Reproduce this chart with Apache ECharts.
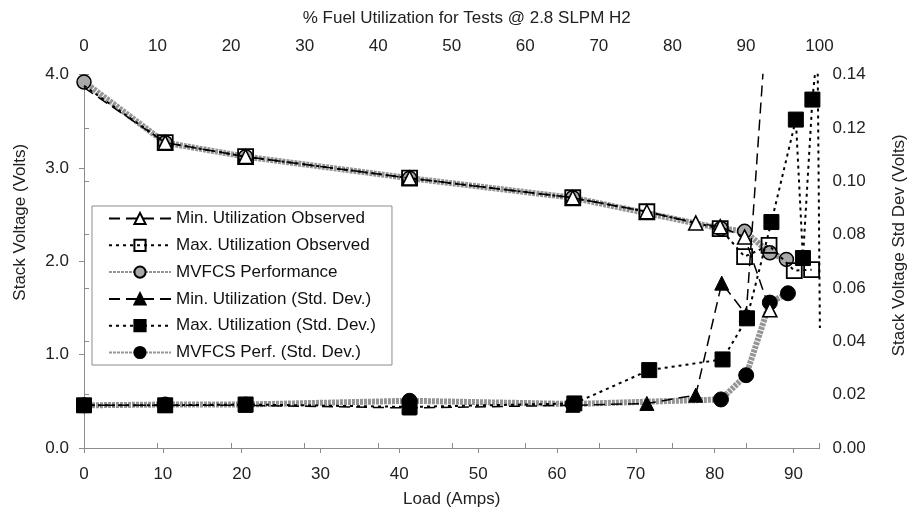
<!DOCTYPE html>
<html>
<head>
<meta charset="utf-8">
<script src="https://cdn.jsdelivr.net/npm/echarts@6/dist/echarts.min.js"></script>
<style>
  html, body { margin: 0; padding: 0; background: #fff; }
  #chart { width: 909px; height: 515px; }
</style>
</head>
<body>
<div id="chart"></div>
<script>
// Load (A) and stack voltage (V) for each test series
const minObsLoad = [0, 10.3, 20.5, 41.3, 62.0, 71.4, 77.6, 80.7, 83.8, 87.0];
const minObsVolt = [3.86, 3.27, 3.12, 2.89, 2.68, 2.53, 2.41, 2.37, 2.26, 1.48];

const maxObsLoad = [0, 10.3, 20.5, 41.3, 62.0, 71.4, 80.7, 83.8, 86.9, 90.1, 92.3];
const maxObsVolt = [3.88, 3.27, 3.12, 2.89, 2.68, 2.53, 2.35, 2.05, 2.17, 1.90, 1.91];

const perfLoad = [0, 10.3, 20.5, 41.3, 62.0, 80.8, 83.8, 87.0, 89.1];
const perfVolt = [3.92, 3.27, 3.12, 2.89, 2.68, 2.35, 2.32, 2.09, 2.02];

// Load (A) and stack voltage standard deviation (V)
const minSdLoad = [0, 10.3, 20.5, 41.3, 62.0, 71.4, 77.6, 80.9, 84.0, 88.0];
const minSdVal  = [0.016, 0.016, 0.016, 0.015, 0.016, 0.0167, 0.0198, 0.0618, 0.050, 0.22];

const maxSdLoad = [0, 10.3, 20.5, 41.3, 62.2, 71.7, 81.0, 84.1, 87.2, 90.3, 91.2, 92.4, 93.05, 93.35];
const maxSdVal  = [0.016, 0.016, 0.0163, 0.0154, 0.0167, 0.0292, 0.0332, 0.0486, 0.0847, 0.1231, 0.0712, 0.1306, 0.15, 0.045];

const perfSdLoad = [0, 10.3, 20.5, 41.3, 62.0, 80.8, 84.0, 87.0, 89.3];
const perfSdVal  = [0.016, 0.0163, 0.0163, 0.0177, 0.0165, 0.0182, 0.0273, 0.0545, 0.058];

// Axis ranges and labels
const loadTicks = [0, 10, 20, 30, 40, 50, 60, 70, 80, 90];
const loadMax = 93.3;
const utilMax = 100;
const seriesNames = [
  'Min. Utilization Observed',
  'Max. Utilization Observed',
  'MVFCS Performance',
  'Min. Utilization (Std. Dev.)',
  'Max. Utilization (Std. Dev.)',
  'MVFCS Perf. (Std. Dev.)'
];

const zip = (xs, ys) => xs.map((x, i) => [x, ys[i]]);
// the observed-voltage markers at no load sit under the performance circle
const hideFirstMarker = pts => pts.map((p, i) => i === 0 ? { value: p, symbolSize: 0 } : p);
// readings past the right edge of the load axis carry no marker
const hideOffAxisMarkers = pts => pts.map(p => p[0] > loadMax ? { value: p, symbolSize: 0 } : p);

const FONT = "'Liberation Sans', Arial, sans-serif";
const AXIS_GRAY = '#8c8c8c';
const TEXT = '#222';
const LINE_GRAY = '#959595';

const labelStyle = { fontFamily: FONT, fontSize: 17, color: TEXT };
const nameStyle = { fontFamily: FONT, fontSize: 17, color: TEXT };

function axisBase() {
  return {
    axisLine: { show: true, lineStyle: { color: AXIS_GRAY, width: 1 } },
    axisTick: { show: true, length: 5, lineStyle: { color: AXIS_GRAY } },
    splitLine: { show: false },
  };
}

const dashed = [11, 6];
const dotted = [3, 4];
const grayBand = [3, 1];

const chart = echarts.init(document.getElementById('chart'), null, { renderer: 'canvas' });

chart.setOption({
  animation: false,
  backgroundColor: '#fff',
  textStyle: { fontFamily: FONT },
  grid: { left: 84, right: 89.5, top: 74.5, bottom: 67, containLabel: false, outerBoundsMode: 'none' },
  legend: {
    orient: 'vertical',
    left: 92,
    top: 206,
    data: seriesNames,
    backgroundColor: '#fff',
    borderColor: '#8c8c8c',
    borderWidth: 1,
    padding: [4, 16, 4, 16],
    itemWidth: 62,
    itemHeight: 14,
    itemGap: 9.8,
    textStyle: { fontFamily: FONT, fontSize: 17, color: '#111', lineHeight: 17 },
    selectedMode: false
  },
  xAxis: [
    Object.assign(axisBase(), {
      type: 'value', position: 'bottom',
      min: 0, max: loadMax, interval: 10,
      name: 'Load (Amps)', nameLocation: 'middle', nameGap: 43,
      nameTextStyle: nameStyle,
      axisLabel: Object.assign({ margin: 18, showMaxLabel: false,
        formatter: v => loadTicks.includes(v) ? String(v) : '' }, labelStyle)
    }),
    Object.assign(axisBase(), {
      type: 'value', position: 'top',
      min: 0, max: utilMax, interval: 10,
      name: '% Fuel Utilization for Tests @ 2.8 SLPM H2', nameLocation: 'middle', nameGap: 48,
      nameTextStyle: Object.assign({ padding: [0, 0, 0, 30] }, nameStyle),
      axisLabel: Object.assign({ margin: 20 }, labelStyle)
    })
  ],
  yAxis: [
    Object.assign(axisBase(), {
      type: 'value', position: 'left',
      min: 0, max: 4, interval: 1,
      name: 'Stack Voltage (Volts)', nameLocation: 'middle', nameGap: 55, nameRotate: 90,
      nameTextStyle: Object.assign({ padding: [0, 0, 0, 78] }, nameStyle),
      axisLabel: Object.assign({ margin: 15, formatter: v => v.toFixed(1) }, labelStyle)
    }),
    Object.assign(axisBase(), {
      type: 'value', position: 'right',
      min: 0, max: 0.14, interval: 0.02,
      name: 'Stack Voltage Std Dev (Volts)', nameLocation: 'middle', nameGap: 71, nameRotate: 90,
      nameTextStyle: Object.assign({ padding: [0, 0, 0, 32] }, nameStyle),
      axisLabel: Object.assign({ margin: 13, formatter: v => v.toFixed(2) }, labelStyle)
    })
  ],
  series: [
    {
      name: seriesNames[0], type: 'line', xAxisIndex: 0, yAxisIndex: 0, z: 4,
      data: hideFirstMarker(zip(minObsLoad, minObsVolt)),
      symbol: 'triangle', symbolSize: 14,
      lineStyle: { color: '#000', width: 1.5, type: dashed },
      itemStyle: { color: '#fff', borderColor: '#000', borderWidth: 1.6 }
    },
    {
      name: seriesNames[1], type: 'line', xAxisIndex: 0, yAxisIndex: 0, z: 4,
      data: hideFirstMarker(zip(maxObsLoad, maxObsVolt)),
      symbol: 'rect', symbolSize: 15,
      lineStyle: { color: '#000', width: 2, type: dotted },
      itemStyle: { color: 'rgba(255,255,255,0)', borderColor: '#000', borderWidth: 1.8 }
    },
    {
      name: seriesNames[2], type: 'line', xAxisIndex: 0, yAxisIndex: 0, z: 2,
      data: zip(perfLoad, perfVolt),
      symbol: 'circle', symbolSize: 14,
      lineStyle: { color: LINE_GRAY, width: 6, type: grayBand },
      itemStyle: { color: '#a8a8a8', borderColor: '#000', borderWidth: 1.5 }
    },
    {
      name: seriesNames[3], type: 'line', xAxisIndex: 0, yAxisIndex: 1, z: 4,
      data: zip(minSdLoad, minSdVal),
      symbol: 'triangle', symbolSize: 14,
      lineStyle: { color: '#000', width: 1.5, type: dashed },
      itemStyle: { color: '#000', borderColor: '#000', borderWidth: 1 }
    },
    {
      name: seriesNames[4], type: 'line', xAxisIndex: 0, yAxisIndex: 1, z: 4,
      data: hideOffAxisMarkers(zip(maxSdLoad, maxSdVal)),
      symbol: 'rect', symbolSize: 15,
      lineStyle: { color: '#000', width: 2, type: dotted },
      itemStyle: { color: '#000', borderColor: '#000', borderWidth: 1 }
    },
    {
      name: seriesNames[5], type: 'line', xAxisIndex: 0, yAxisIndex: 1, z: 2,
      data: zip(perfSdLoad, perfSdVal),
      symbol: 'circle', symbolSize: 15,
      lineStyle: { color: LINE_GRAY, width: 6, type: grayBand },
      itemStyle: { color: '#000', borderColor: '#000', borderWidth: 1 }
    }
  ]
});
</script>
</body>
</html>
